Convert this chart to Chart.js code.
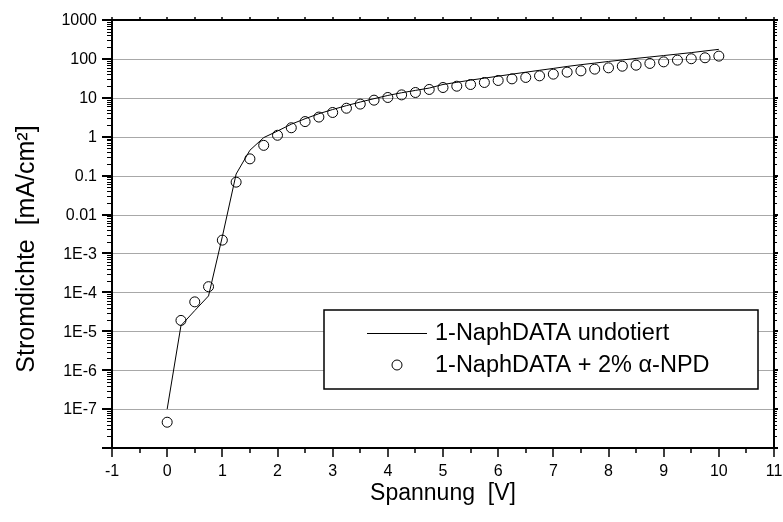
<!DOCTYPE html>
<html>
<head>
<meta charset="utf-8">
<script src="https://cdn.jsdelivr.net/npm/chart.js@4"></script>
<style>
  html, body { margin: 0; padding: 0; background: #fff; }
  #wrap { width: 783px; height: 522px; }
</style>
</head>
<body>
<div id="wrap"><canvas id="chart" width="783" height="522"></canvas></div>
<script>
// Data
const voltage = [0, 0.25, 0.5, 0.75, 1, 1.25, 1.5, 1.75, 2, 2.25, 2.5, 2.75, 3, 3.25, 3.5, 3.75,
    4, 4.25, 4.5, 4.75, 5, 5.25, 5.5, 5.75, 6, 6.25, 6.5, 6.75, 7, 7.25, 7.5, 7.75,
    8, 8.25, 8.5, 8.75, 9, 9.25, 9.5, 9.75, 10];
const undotiert = [1e-7, 1.4e-5, 3.4e-5, 8.1e-5, 2.7e-3, 0.11, 0.45, 0.95, 1.4, 2.1, 2.9, 3.9, 5.0, 6.3, 7.8, 9.5,
    11.5, 13.5, 15.5, 17.8, 22, 25, 28.5, 32, 36, 40.5, 45.5, 51, 57, 64, 71, 78,
    86, 94, 103, 112, 122, 133, 145, 160, 176];
const dotiert = [4.6e-8, 1.9e-5, 5.7e-5, 1.4e-4, 2.2e-3, 0.068, 0.27, 0.6, 1.09, 1.7, 2.45, 3.2, 4.2, 5.4, 6.9, 8.7,
    10.2, 11.9, 13.7, 16.4, 18.4, 19.9, 22, 24.8, 27.9, 30.7, 33.4, 36.7, 40.6, 45.7, 49.3, 54.6,
    59, 65, 69, 76.5, 84, 93, 101, 107, 118];

const xTicks = [-1, 0, 1, 2, 3, 4, 5, 6, 7, 8, 9, 10, 11];
const yTicks = [1e-8, 1e-7, 1e-6, 1e-5, 1e-4, 1e-3, 0.01, 0.1, 1, 10, 100, 1000];
const yTickLabels = ['', '1E-7', '1E-6', '1E-5', '1E-4', '1E-3', '0.01', '0.1', '1', '10', '100', '1000'];
const seriesNames = ['1-NaphDATA undotiert', '1-NaphDATA + 2% \u03b1-NPD'];

const FONT = '"Liberation Sans", Arial, sans-serif';

// grid lines under the data
const gridPlugin = {
    id: 'grid',
    beforeDatasetsDraw(chart) {
        const { ctx, chartArea: a, scales: { y } } = chart;
        ctx.save();
        ctx.strokeStyle = '#a8a8a8';
        ctx.lineWidth = 1;
        yTicks.forEach(v => {
            if (v === yTicks[0] || v === yTicks[yTicks.length - 1]) return;
            const py = Math.round(y.getPixelForValue(v)) + 0.5;
            ctx.beginPath();
            ctx.moveTo(a.left, py);
            ctx.lineTo(a.right, py);
            ctx.stroke();
        });
        ctx.restore();
    }
};

// frame, ticks, labels, titles and legend
const framePlugin = {
    id: 'frame',
    afterDatasetsDraw(chart) {
        const { ctx, chartArea: a, scales: { x, y } } = chart;
        ctx.save();
        ctx.strokeStyle = '#000';
        ctx.fillStyle = '#000';

        // minor + major ticks on y
        ctx.lineWidth = 1;
        for (let i = 0; i < yTicks.length - 1; i++) {
            for (let k = 2; k <= 9; k++) {
                const py = Math.round(y.getPixelForValue(yTicks[i] * k)) + 0.5;
                ctx.beginPath();
                ctx.moveTo(a.left - 5, py); ctx.lineTo(a.left, py);
                ctx.moveTo(a.right, py); ctx.lineTo(a.right + 3, py);
                ctx.stroke();
            }
        }
        ctx.lineWidth = 2;
        yTicks.forEach(v => {
            const py = Math.round(y.getPixelForValue(v));
            ctx.beginPath();
            ctx.moveTo(a.left - 10, py); ctx.lineTo(a.left, py);
            ctx.moveTo(a.right, py); ctx.lineTo(a.right + 4, py);
            ctx.stroke();
        });

        // ticks on x, every half volt
        ctx.lineWidth = 1.5;
        for (let v = -1; v <= 11; v += 0.5) {
            const px = Math.round(x.getPixelForValue(v));
            const major = Number.isInteger(v);
            ctx.beginPath();
            ctx.moveTo(px, a.bottom); ctx.lineTo(px, a.bottom + (major ? 9 : 5));
            ctx.moveTo(px, a.top); ctx.lineTo(px, a.top - 3);
            ctx.stroke();
        }

        // frame
        ctx.lineWidth = 2;
        ctx.strokeRect(a.left, a.top, a.right - a.left, a.bottom - a.top);

        // tick labels
        ctx.font = '16px ' + FONT;
        ctx.textAlign = 'right';
        ctx.textBaseline = 'middle';
        yTicks.forEach((v, i) => {
            ctx.fillText(yTickLabels[i], a.left - 15, y.getPixelForValue(v) + 1);
        });
        ctx.textAlign = 'center';
        ctx.textBaseline = 'top';
        xTicks.forEach(v => {
            ctx.fillText(String(v), x.getPixelForValue(v), a.bottom + 16);
        });

        // axis titles
        ctx.textBaseline = 'middle';
        ctx.font = '23px ' + FONT;
        ctx.fillText('Spannung  [V]', (a.left + a.right) / 2, 494);
        ctx.save();
        ctx.translate(27, 249);
        ctx.rotate(-Math.PI / 2);
        ctx.font = '25px ' + FONT;
        ctx.fillText('Stromdichte  [mA/cm\u00b2]', 0, 0);
        ctx.restore();

        // legend
        const bx = 324, by = 310, bw = 434, bh = 79;
        ctx.fillStyle = '#fff';
        ctx.fillRect(bx, by, bw, bh);
        ctx.lineWidth = 1.5;
        ctx.strokeRect(bx, by, bw, bh);
        ctx.lineWidth = 1;
        ctx.beginPath();
        ctx.moveTo(367, 333.5); ctx.lineTo(427, 333.5);
        ctx.stroke();
        ctx.beginPath();
        ctx.arc(397, 365, 5, 0, Math.PI * 2);
        ctx.stroke();
        ctx.fillStyle = '#000';
        ctx.font = '23.5px ' + FONT;
        ctx.textAlign = 'left';
        ctx.fillText(seriesNames[0], 435, 334);
        ctx.fillText(seriesNames[1], 435, 366);
        ctx.restore();
    }
};

new Chart(document.getElementById('chart'), {
    type: 'scatter',
    data: {
        datasets: [
            {
                label: seriesNames[0],
                data: voltage.map((v, i) => ({ x: v, y: undotiert[i] })),
                showLine: true,
                borderColor: '#000',
                borderWidth: 1,
                pointRadius: 0,
                tension: 0
            },
            {
                label: seriesNames[1],
                data: voltage.map((v, i) => ({ x: v, y: dotiert[i] })),
                showLine: false,
                pointStyle: 'circle',
                pointRadius: 5,
                borderColor: '#000',
                borderWidth: 1,
                backgroundColor: 'rgba(0,0,0,0)'
            }
        ]
    },
    options: {
        responsive: false,
        animation: false,
        layout: { padding: { left: 112, right: 9, top: 20, bottom: 74 } },
        scales: {
            x: { type: 'linear', min: -1, max: 11, display: false },
            y: { type: 'logarithmic', min: 1e-8, max: 1000, display: false }
        },
        plugins: {
            legend: { display: false },
            tooltip: { enabled: false }
        }
    },
    plugins: [gridPlugin, framePlugin]
});
</script>
</body>
</html>
